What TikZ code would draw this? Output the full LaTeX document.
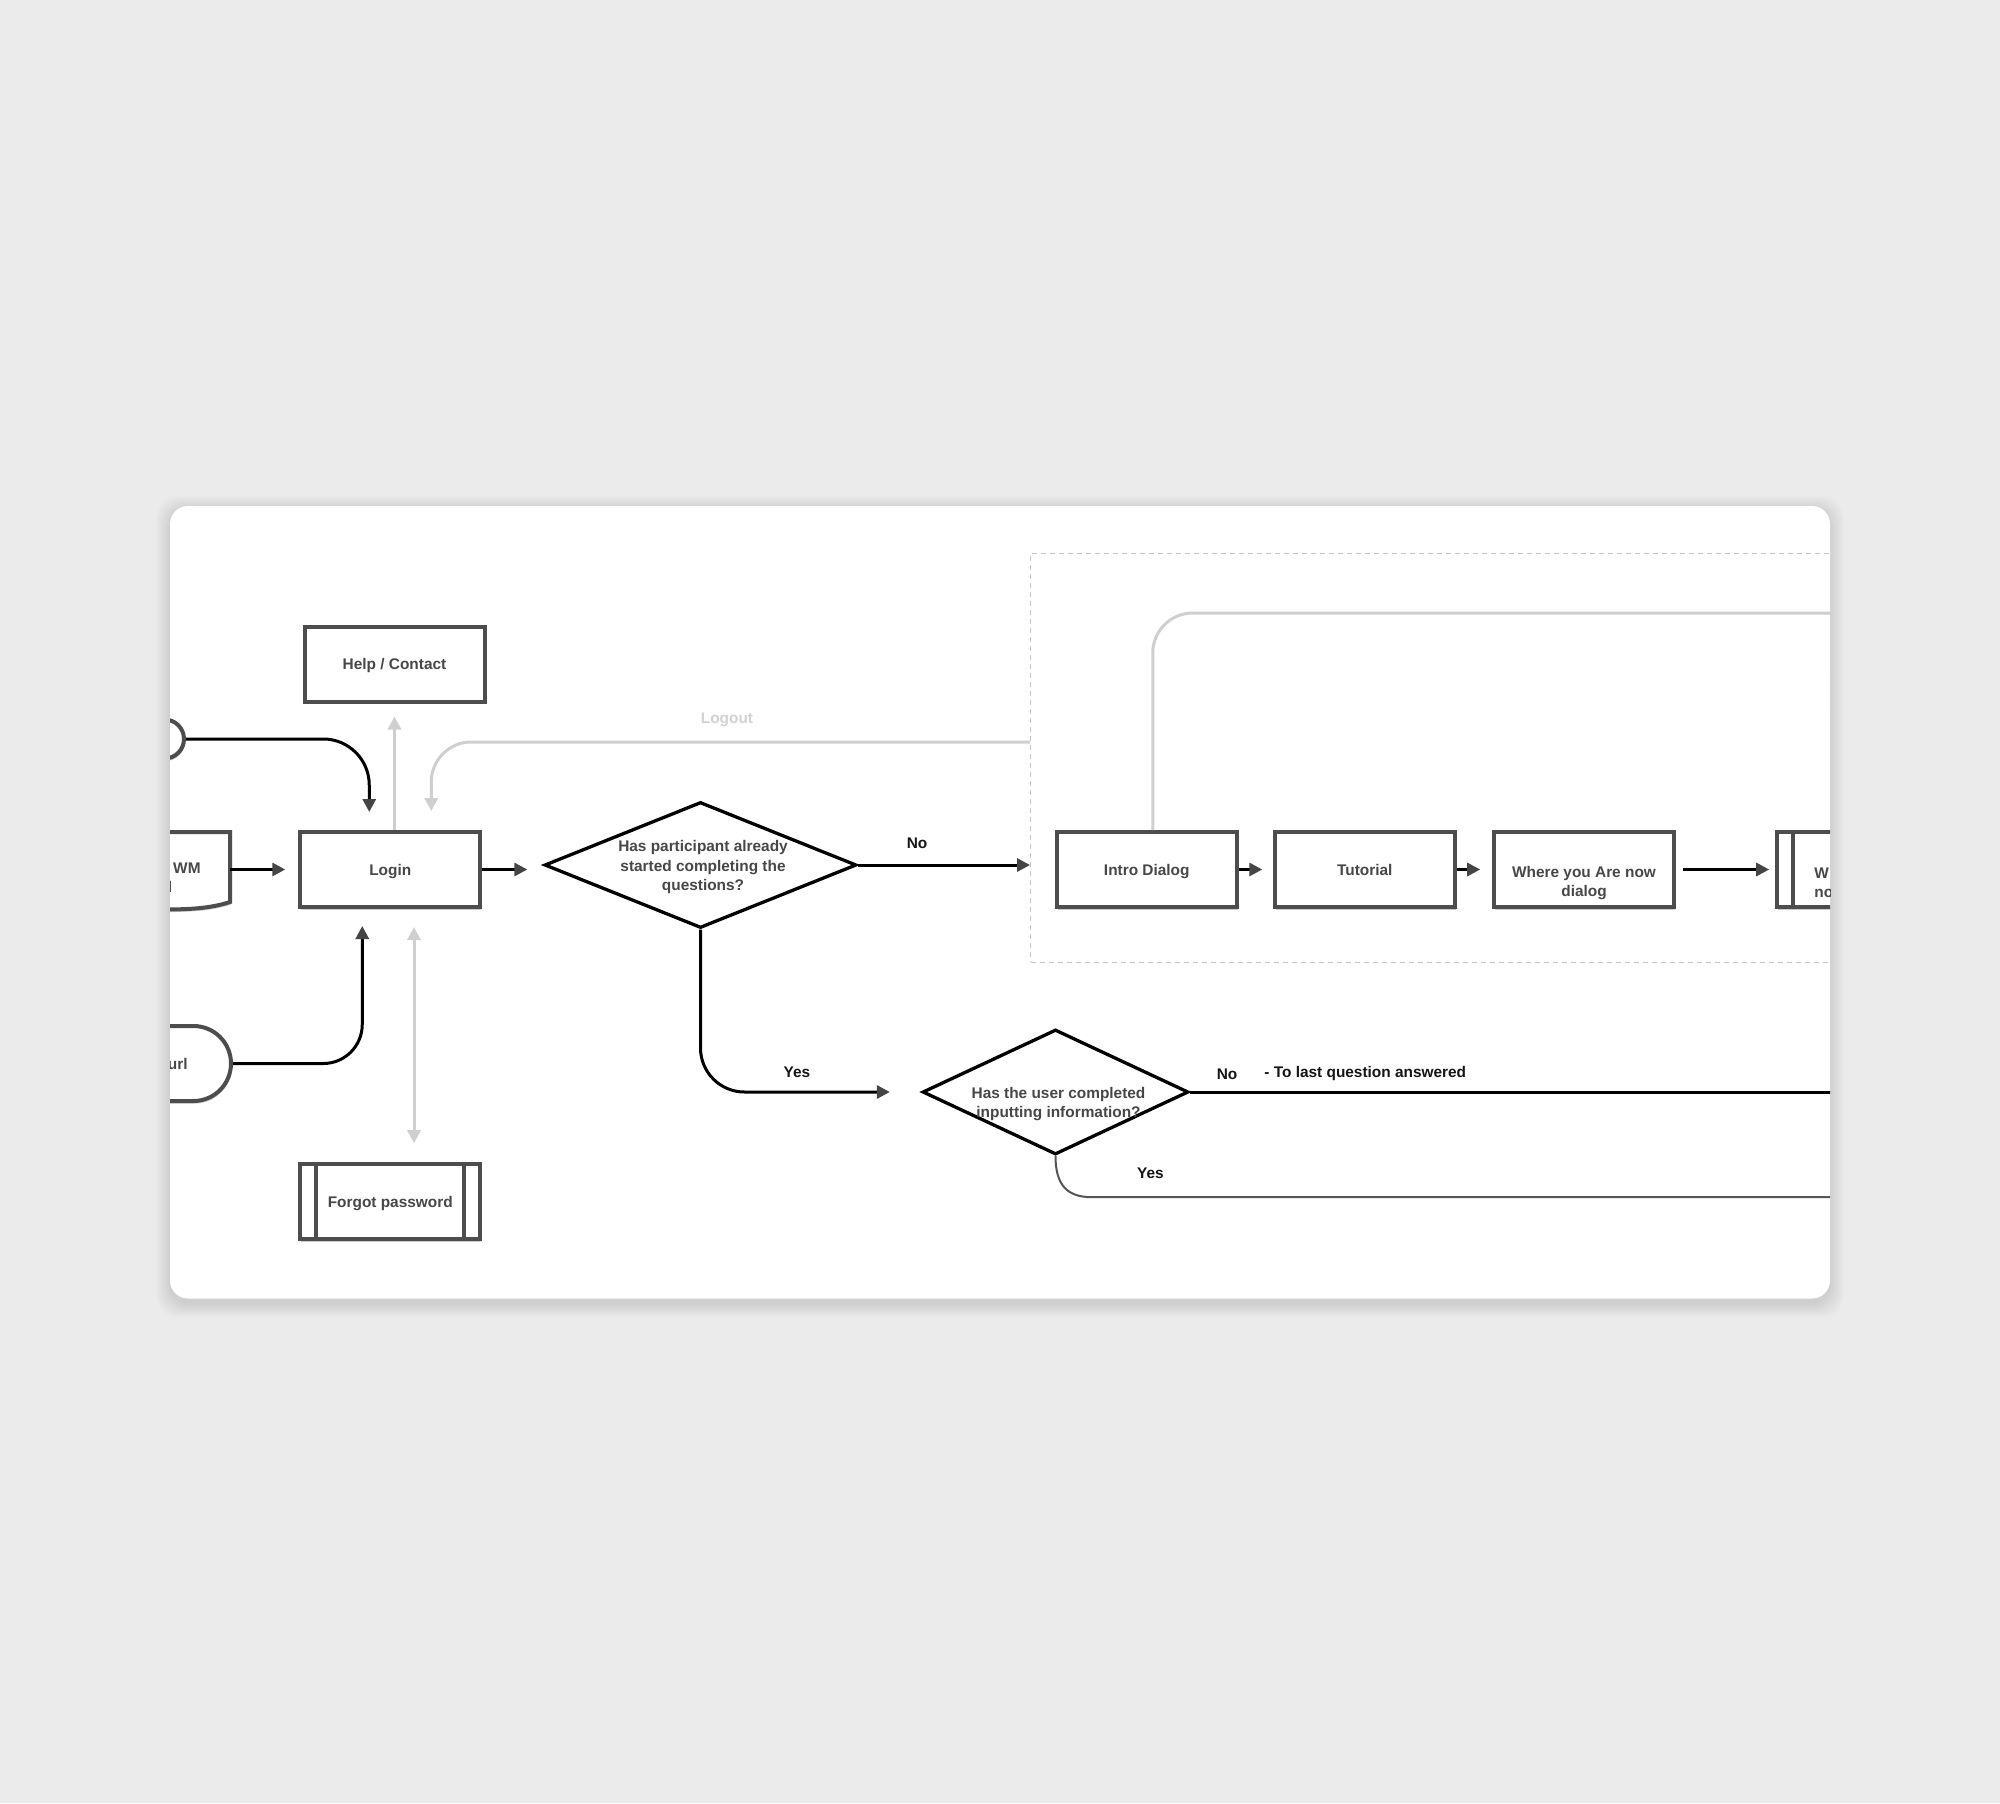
\documentclass[tikz,border=0pt]{standalone}
\usepackage{fontspec}
\setmainfont{Liberation Sans}
\usetikzlibrary{arrows.meta,shapes.geometric,shapes.misc,calc,shadows}
\definecolor{bgc}{HTML}{EBEBEB}
\definecolor{boxc}{HTML}{4D4D4D}
\definecolor{txtc}{HTML}{474747}
\definecolor{lblc}{HTML}{151515}
\definecolor{tipc}{HTML}{454545}
\definecolor{gryc}{HTML}{CFCFCF}
\definecolor{dashc}{HTML}{C6C6C6}
\definecolor{logc}{HTML}{D2D2D2}
\definecolor{thinc}{HTML}{555555}
\newcommand{\dfont}{\fontsize{7.7pt}{9.75pt}\selectfont\bfseries}
\begin{document}
\begin{tikzpicture}[x=0.5pt,y=-0.5pt,
  shad/.style={drop shadow={shadow xshift=0.5pt, shadow yshift=-1.3pt, opacity=0.2, fill=black}},
  box/.style={draw=boxc, line width=2pt, fill=white, minimum width=90pt, minimum height=37.5pt, inner sep=0pt, font=\dfont, text=txtc, text height=5.5pt, text depth=0pt, shad},
  term/.style={rounded rectangle, draw=boxc, line width=2pt, fill=white, inner sep=0pt, shad},
  dec/.style={diamond, draw=black, line width=1.65pt, fill=white, inner sep=0pt},
  txt/.style={font=\dfont, text=txtc, inner sep=0pt},
  lbl/.style={font=\dfont, text=lblc, inner sep=0pt},
  blk/.style={draw=black, line width=1.5pt, -{Triangle[length=6.5pt,width=6.5pt,color=tipc]}},
  gry/.style={draw=gryc, line width=1.5pt, -{Triangle[length=6.5pt,width=6.5pt]}},
  dashbox/.style={draw=dashc, line width=0.7pt, dash pattern=on 2.5pt off 2pt, inner sep=0pt},
  boxline/.style={draw=boxc, line width=2pt}
]
% background
\fill[bgc] (0,0) rectangle (2000,1803);
\useasboundingbox (0,0) rectangle (2000,1803);
% card shadow
\foreach \i in {1,...,14}{
  \fill[black, opacity=0.009, rounded corners=11pt] (170-\i,506-\i+4) rectangle (1830+\i,1298.5+\i+5);
}
\fill[white, rounded corners=9pt] (170,506) rectangle (1830,1298.5);
\begin{scope}
\clip[rounded corners=9pt] (170,506) rectangle (1830,1298.5);

% dashed group
\node[dashbox, anchor=north west, minimum width=435pt, minimum height=204.25pt] (grp) at (1030,553) {};

% left partial shapes
\node[term, minimum width=100pt, minimum height=19.5pt] (t1) at (84,739) {};
\node[term, minimum width=200pt, minimum height=37.5pt] (url) at (31,1063.5) {};
\node[txt, anchor=east] (urlt) at (188,1064) {url};
\draw[draw=boxc, line width=2pt, fill=white, shad]
  (60,832) -- (230,832) -- (230,902)
  .. controls (210,908.5) and (190,909.5) .. (160,909.5) -- (60,909.5) -- cycle;
\coordinate (wme) at (230,869.5);
\node[txt, anchor=east] (wmt) at (201,868) {WM};
\node[txt, anchor=east] (wmt2) at (172.5,887) {l};

% boxes
\node[box] (help) at (394.5,664) {Help / Contact};
\node[box] (login) at (390.25,869.5) {Login};
\node[box] (forgot) at (390.25,1201.5) {Forgot password};
\draw[boxline] ($(forgot.north west)+(18,0)$) -- ($(forgot.south west)+(18,0)$);
\draw[boxline] ($(forgot.north east)+(-18,0)$) -- ($(forgot.south east)+(-18,0)$);

\node[box] (intro) at (1146.75,869.5) {Intro Dialog};
\node[box] (tut) at (1364.8,869.5) {Tutorial};
\node[box] (where) at (1584,869.5) {};
\node[txt, align=center] (wheret) at (1584,883) {Where you Are now\\dialog};
\node[box] (last) at (1867,869.5) {};
\draw[boxline] ($(last.north west)+(18,0)$) -- ($(last.south west)+(18,0)$);
\node[txt, align=left, anchor=west] (lastt) at (1814,883) {W\\no};

% decisions
\node[dec, minimum width=156pt, minimum height=63pt] (d1) at (700.5,865) {};
\node[txt, align=center] (d1t) at (703,867.5) {Has participant already\\started completing the\\questions?};
\node[dec, minimum width=133pt, minimum height=62.5pt] (d2) at (1055.5,1092) {};
\node[txt, align=center] (d2t) at (1058.5,1104) {Has the user completed\\inputting information?};

% connectors (black)
\coordinate (c1) at ($(login.north)+(-21,0)$);
\draw[blk, rounded corners=23pt, shorten >=9pt] (t1.east) -| (c1);
\coordinate (c2) at ($(login.south)+(-28,0)$);
\draw[blk, rounded corners=19.5pt, shorten >=8.5pt] (url.east) -| (c2);
\draw[blk, shorten >=6.5pt] (wme) -- (wme -| login.west);
\draw[blk, shorten >=7.75pt] (login.east) -- (login.east -| d1.west);
\draw[blk] (d1.east) -- (d1.east -| grp.west);
\draw[blk, rounded corners=22pt, shorten >=15.5pt] (d1.south) |- (d2.west);
\draw[draw=black, line width=1.5pt] (d2.east) -- ++(700,0);
\draw[draw=thinc, line width=1pt] (d2.south) .. controls +(0,28) and +(-25,0) .. ($(d2.south)+(36,41)$) -- ++(800,0);
\draw[blk, shorten >=5.25pt] (intro.east) -- (tut.west);
\draw[blk, shorten >=5.9pt] (tut.east) -- (where.west);
\draw[blk, shorten <=3.4pt, shorten >=2.9pt] (where.east) -- (last.west);

% connectors (grey)
\draw[gry, shorten >=6.5pt] (help.south |- login.north) -- (help.south);
\draw[gry, {Triangle[length=6.5pt,width=6.5pt]}-{Triangle[length=6.5pt,width=6.5pt]}, shorten <=9pt, shorten >=9.4pt]
  ($(login.south)+(23.75,0)$) -- ($(forgot.north)+(23.75,0)$);
\coordinate (lo) at ($(grp.north west)+(0,189)$);
\draw[gry, rounded corners=20pt, shorten >=9.5pt] (lo) -| ($(login.north)+(41,0)$);
\draw[draw=gryc, line width=1.5pt, rounded corners=20pt] ($(intro.north)+(6,0)$) |- (1900,613);
\draw[draw=gryc, line width=1.5pt] (1831,674) -- (1831,716);

% labels
\node[lbl] (no1) at (917,843) {No};
\node[lbl] (yes1) at (797,1072) {Yes};
\node[lbl] (no2) at (1227,1074) {No};
\node[lbl, anchor=west] (last2) at (1264,1074) {- To last question answered};
\node[lbl] (yes2) at (1150.5,1173) {Yes};
\node[font=\dfont, text=logc, inner sep=0pt] (logout) at (727,720) {Logout};
\end{scope}
\end{tikzpicture}
\end{document}
